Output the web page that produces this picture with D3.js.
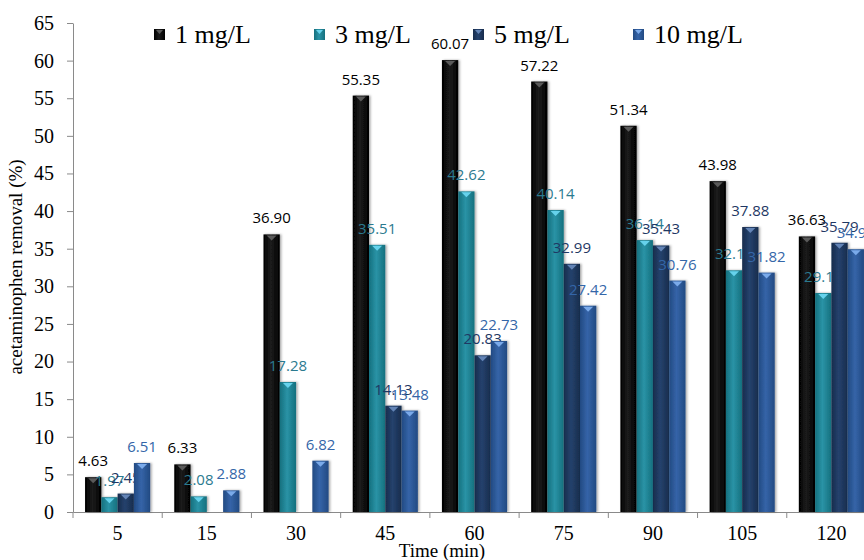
<!DOCTYPE html>
<html>
<head>
<meta charset="utf-8">
<script src="https://cdn.jsdelivr.net/npm/d3@7"></script>
<style>
  html, body { margin: 0; padding: 0; background: #fff; }
  svg { display: block; overflow: hidden; }
</style>
</head>
<body>
<div id="chart"></div>
<script>
// time points (min) on the x axis
const times = ["5", "15", "30", "45", "60", "75", "90", "105", "120"]

// removal (%) per initial concentration, null = no bar
const series = ["1 mg/L", "3 mg/L", "5 mg/L", "10 mg/L"]
const conc1 = [4.63, 6.33, 36.90, 55.35, 60.07, 57.22, 51.34, 43.98, 36.63]
const conc3 = [1.97, 2.08, 17.28, 35.51, 42.62, 40.14, 36.14, 32.13, 29.11]
const conc5 = [2.45, null, null, 14.13, 20.83, 32.99, 35.43, 37.88, 35.79]
const conc10 = [6.51, 2.88, 6.82, 13.48, 22.73, 27.42, 30.76, 31.82, 34.93]
const yTicks = [0, 5, 10, 15, 20, 25, 30, 35, 40, 45, 50, 55, 60, 65]

const allValues = [conc1, conc3, conc5, conc10]

const W = 864, H = 560
const margin = { top: 23, left: 73, bottom: 48 }
const plotBottom = H - margin.bottom
// the plot runs past the right edge of the picture, the last group gets cut
const plotRight = 876

// bar looks: side colour, middle colour, top triangle, label colour
const looks = [
  { edge: "#000000", mid: "#1c1c1c", cap: "#5a5a5a", label: "#000000" },
  { edge: "#15707e", mid: "#2a93a6", cap: "#66d2ec", label: "#2b7a8f" },
  { edge: "#172c4c", mid: "#25426d", cap: "#6384b6", label: "#1f3864" },
  { edge: "#224a82", mid: "#3564a8", cap: "#7aaaea", label: "#3466a8" }
]

const svg = d3.select("#chart")
  .append("svg")
  .attr("width", W)
  .attr("height", H)

const defs = svg.append("defs")
looks.forEach((lk, i) => {
  const g = defs.append("linearGradient")
    .attr("id", "bar" + i)
    .attr("x1", "0%").attr("x2", "100%")
    .attr("y1", "0%").attr("y2", "0%")
  g.append("stop").attr("offset", "0%").attr("stop-color", lk.edge)
  g.append("stop").attr("offset", "45%").attr("stop-color", lk.mid)
  g.append("stop").attr("offset", "100%").attr("stop-color", lk.edge)
})
const shadow = defs.append("filter").attr("id", "shadow")
  .attr("x", "-30%").attr("y", "-10%").attr("width", "160%").attr("height", "120%")
shadow.append("feDropShadow")
  .attr("dx", 1.5).attr("dy", 0).attr("stdDeviation", 1.2)
  .attr("flood-color", "#000").attr("flood-opacity", 0.35)

// scales
const x0 = d3.scaleBand()
  .domain(times)
  .range([margin.left, plotRight])
  .paddingInner(0.27)
  .paddingOuter(0.135)

const x1 = d3.scaleBand()
  .domain(series)
  .range([0, x0.bandwidth()])

const y = d3.scaleLinear()
  .domain([0, 65])
  .range([plotBottom, margin.top])

// y axis
const yAxis = svg.append("g")
  .attr("transform", `translate(${margin.left},0)`)
  .call(d3.axisLeft(y).tickValues(yTicks).tickSize(6).tickSizeOuter(0).tickPadding(13))
yAxis.select(".domain").attr("stroke", "#8a8a8a")
yAxis.selectAll(".tick line").attr("stroke", "#8a8a8a")
yAxis.selectAll(".tick text")
  .attr("font-family", "Liberation Serif, Times New Roman, serif")
  .attr("font-size", 20)
  .attr("fill", "#000")

// x axis, ticks sit between the groups
const xAxis = svg.append("g")
  .attr("transform", `translate(0,${plotBottom})`)
  .call(d3.axisBottom(x0).tickSize(0).tickSizeOuter(0).tickPadding(14))
xAxis.select(".domain").attr("stroke", "#8a8a8a")
xAxis.selectAll(".tick text")
  .attr("font-family", "Liberation Serif, Times New Roman, serif")
  .attr("font-size", 20)
  .attr("fill", "#000")

const halfGap = x0.step() * x0.paddingInner() / 2
const bounds = times.map(t => x0(t) - halfGap).concat([x0(times[times.length - 1]) + x0.bandwidth() + halfGap])
xAxis.selectAll(".bound")
  .data(bounds)
  .enter()
  .append("line")
  .attr("class", "bound")
  .attr("x1", d => d).attr("x2", d => d)
  .attr("y1", 0).attr("y2", 6)
  .attr("stroke", "#8a8a8a")

// bars, series by series so later bars sit on earlier labels like the original
series.forEach((s, si) => {
  const rows = times.map((t, ti) => ({ t: t, v: allValues[si][ti] })).filter(d => d.v !== null)
  const lk = looks[si]
  const g = svg.append("g")

  g.selectAll("rect")
    .data(rows)
    .enter()
    .append("rect")
    .attr("x", d => x0(d.t) + x1(s))
    .attr("y", d => y(d.v))
    .attr("width", x1.bandwidth())
    .attr("height", d => plotBottom - y(d.v))
    .attr("fill", `url(#bar${si})`)
    .attr("filter", "url(#shadow)")

  // the little bevel triangle on the top of each bar
  g.selectAll("path.cap")
    .data(rows)
    .enter()
    .append("path")
    .attr("class", "cap")
    .attr("d", d => {
      const cx = x0(d.t) + x1(s) + x1.bandwidth() / 2
      const top = y(d.v)
      return `M${cx - 5},${top + 1}L${cx + 5},${top + 1}L${cx},${top + 6}Z`
    })
    .attr("fill", lk.cap)

  g.selectAll("text")
    .data(rows)
    .enter()
    .append("text")
    .attr("x", d => x0(d.t) + x1(s) + x1.bandwidth() / 2)
    .attr("y", d => y(d.v) - 11)
    .attr("text-anchor", "middle")
    .attr("font-family", "Open Sans, Noto Sans, sans-serif")
    .attr("font-size", 15)
    .attr("fill", lk.label)
    .text(d => d.v.toFixed(2))
})

// legend
const legendX = [154, 314, 473, 633]
const legend = svg.append("g")
series.forEach((s, i) => {
  legend.append("rect")
    .attr("x", legendX[i])
    .attr("y", 29)
    .attr("width", 11)
    .attr("height", 11)
    .attr("fill", `url(#bar${i})`)
  legend.append("path")
    .attr("d", `M${legendX[i] + 2},${30}L${legendX[i] + 9},${30}L${legendX[i] + 5.5},${34}Z`)
    .attr("fill", looks[i].cap)
  legend.append("text")
    .attr("x", legendX[i] + 21)
    .attr("y", 43)
    .attr("font-family", "Liberation Serif, Times New Roman, serif")
    .attr("font-size", 26)
    .attr("fill", "#000")
    .text(s)
})

// axis titles
svg.append("text")
  .attr("transform", `translate(22,${267}) rotate(-90)`)
  .attr("text-anchor", "middle")
  .attr("font-family", "Liberation Serif, Times New Roman, serif")
  .attr("font-size", 19)
  .text("acetaminophen removal (%)")

svg.append("text")
  .attr("x", 442)
  .attr("y", 557)
  .attr("text-anchor", "middle")
  .attr("font-family", "Liberation Serif, Times New Roman, serif")
  .attr("font-size", 19)
  .text("Time (min)")
</script>
</body>
</html>
